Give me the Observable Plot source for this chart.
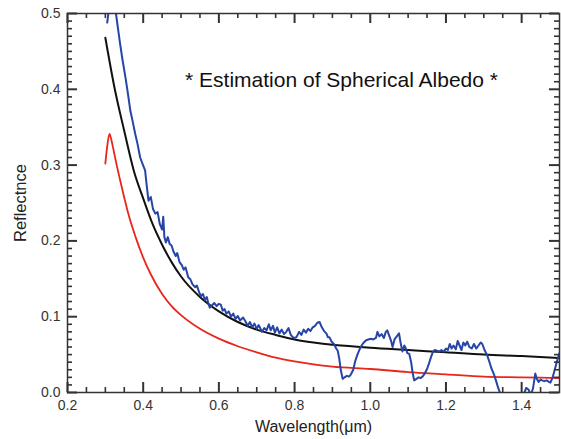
<!DOCTYPE html>
<html>
<head>
<meta charset="utf-8">
<script src="https://cdn.jsdelivr.net/npm/d3@7"></script>
<script src="https://cdn.jsdelivr.net/npm/@observablehq/plot@0.6"></script>
<style>
  html, body { margin: 0; padding: 0; background: #fff; }
  #chart { width: 561px; height: 439px; }
</style>
</head>
<body>
<div id="chart"></div>
<script>
// ---- data ----
const titleText = "* Estimation of Spherical Albedo *";
const xLabel = "Wavelength(μm)";
const yLabel = "Reflectnce";

const xMajorTicks = [0.2, 0.4, 0.6, 0.8, 1.0, 1.2, 1.4];
const xMinorTicks = [0.25, 0.3, 0.35, 0.45, 0.5, 0.55, 0.65, 0.7, 0.75, 0.85, 0.9, 0.95,
                     1.05, 1.1, 1.15, 1.25, 1.3, 1.35, 1.45];
const yMajorTicks = [0.0, 0.1, 0.2, 0.3, 0.4, 0.5];
const yMinorTicks = [0.01,0.02,0.03,0.04,0.05,0.06,0.07,0.08,0.09,
                     0.11,0.12,0.13,0.14,0.15,0.16,0.17,0.18,0.19,
                     0.21,0.22,0.23,0.24,0.25,0.26,0.27,0.28,0.29,
                     0.31,0.32,0.33,0.34,0.35,0.36,0.37,0.38,0.39,
                     0.41,0.42,0.43,0.44,0.45,0.46,0.47,0.48,0.49];

// black: estimated spherical albedo
const blackX = [0.30,0.325,0.35,0.375,0.40,0.425,0.45,0.475,0.50,0.55,0.60,0.65,0.70,0.75,0.80,0.85,0.90,0.95,1.00,1.10,1.20,1.30,1.40,1.50];
const blackY = [0.468,0.400,0.345,0.293,0.256,0.222,0.195,0.172,0.153,0.126,0.107,0.093,0.083,0.076,0.070,0.066,0.063,0.061,0.059,0.056,0.053,0.050,0.048,0.0455];

// red
const redX = [0.300,0.305,0.311,0.316,0.322,0.330,0.340,0.350,0.360,0.380,0.400,0.420,0.450,0.475,0.50,0.55,0.60,0.65,0.70,0.75,0.80,0.85,0.90,1.00,1.10,1.20,1.30,1.40,1.50];
const redY = [0.302,0.325,0.341,0.333,0.319,0.300,0.278,0.257,0.237,0.205,0.178,0.156,0.130,0.114,0.102,0.084,0.071,0.061,0.053,0.046,0.041,0.037,0.034,0.031,0.027,0.024,0.021,0.020,0.019];

// blue: measured spectrum
const blueX = [0.305,0.309,0.315,0.322,0.328,0.334,0.339,0.345,0.353,0.358,0.362,0.366,0.372,0.379,0.385,0.392,0.398,0.405,0.410,0.414,0.420,0.426,0.432,0.438,0.444,0.450,0.453,0.456,0.460,0.465,0.470,0.475,0.480,0.486,0.490,0.496,0.502,0.507,0.512,0.519,0.525,0.530,0.537,0.542,0.548,0.553,0.558,0.563,0.568,0.572,0.576,0.582,0.588,0.594,0.600,0.605,0.610,0.615,0.620,0.626,0.632,0.638,0.644,0.650,0.656,0.664,0.670,0.676,0.682,0.688,0.694,0.700,0.705,0.708,0.714,0.720,0.726,0.732,0.737,0.743,0.748,0.754,0.760,0.766,0.772,0.778,0.784,0.790,0.797,0.805,0.812,0.818,0.824,0.830,0.836,0.842,0.848,0.854,0.860,0.866,0.872,0.878,0.884,0.888,0.892,0.898,0.904,0.910,0.914,0.918,0.922,0.927,0.932,0.938,0.944,0.949,0.955,0.960,0.966,0.971,0.977,0.983,0.989,0.995,1.001,1.008,1.015,1.019,1.024,1.030,1.036,1.041,1.045,1.050,1.055,1.059,1.064,1.070,1.076,1.080,1.085,1.090,1.094,1.098,1.103,1.108,1.112,1.116,1.122,1.128,1.133,1.138,1.144,1.150,1.155,1.160,1.165,1.170,1.176,1.182,1.188,1.194,1.200,1.205,1.210,1.215,1.220,1.226,1.231,1.236,1.241,1.246,1.251,1.256,1.262,1.268,1.274,1.280,1.286,1.292,1.296,1.302,1.309,1.315,1.320,1.326,1.332,1.338,1.344,1.350,1.400,1.412,1.418,1.424,1.430,1.436,1.440,1.445,1.450,1.454,1.460,1.466,1.472,1.476,1.482,1.489,1.496,1.500];
const blueY = [0.488,0.505,0.540,0.545,0.500,0.478,0.460,0.440,0.416,0.400,0.386,0.372,0.358,0.341,0.328,0.310,0.302,0.293,0.270,0.253,0.258,0.242,0.236,0.238,0.222,0.215,0.232,0.205,0.198,0.205,0.196,0.194,0.186,0.180,0.184,0.172,0.168,0.162,0.165,0.152,0.149,0.143,0.139,0.141,0.132,0.127,0.130,0.122,0.126,0.118,0.112,0.115,0.118,0.114,0.117,0.116,0.108,0.110,0.104,0.107,0.100,0.104,0.097,0.101,0.095,0.099,0.094,0.088,0.093,0.086,0.091,0.084,0.089,0.086,0.080,0.085,0.082,0.090,0.082,0.088,0.079,0.086,0.078,0.083,0.077,0.080,0.085,0.076,0.072,0.073,0.080,0.076,0.083,0.079,0.084,0.081,0.086,0.088,0.092,0.093,0.086,0.081,0.078,0.073,0.073,0.067,0.064,0.058,0.055,0.045,0.030,0.018,0.020,0.022,0.021,0.024,0.030,0.041,0.050,0.056,0.062,0.066,0.069,0.070,0.071,0.070,0.072,0.080,0.074,0.077,0.072,0.080,0.082,0.075,0.068,0.060,0.070,0.074,0.078,0.066,0.054,0.062,0.058,0.052,0.051,0.040,0.026,0.016,0.018,0.020,0.019,0.021,0.025,0.031,0.038,0.046,0.053,0.056,0.055,0.054,0.056,0.054,0.058,0.056,0.064,0.058,0.062,0.057,0.068,0.062,0.056,0.066,0.062,0.067,0.060,0.058,0.064,0.058,0.062,0.066,0.064,0.056,0.049,0.040,0.032,0.025,0.016,0.006,-0.002,-0.015,-0.010,0.006,0.004,-0.003,0.005,0.025,0.018,0.014,0.017,0.016,0.015,0.016,0.014,0.013,0.020,0.033,0.046,0.052];

const black = blackX.map((x, i) => ({x, y: blackY[i]}));
const red = redX.map((x, i) => ({x, y: redY[i]}));
const blue = blueX.map((x, i) => ({x, y: blueY[i]}));

const W = 561, H = 439, mL = 67, mR = 2, mT = 13, mB = 47;
const frameW = W - mL - mR, frameH = H - mT - mB;
const axisColor = "#333";
const fmt = d3.format(".1f");

// inward ticks drawn as tick marks inset to a fixed pixel length
function ticksX(anchor, ticks, size, sw) {
  const inset = anchor === "bottom" ? {insetTop: frameH - size} : {insetBottom: frameH - size};
  return Plot.tickX(ticks, {x: d => d, stroke: axisColor, strokeWidth: sw, ...inset});
}
function ticksY(anchor, ticks, size, sw) {
  const inset = anchor === "left" ? {insetRight: frameW - size} : {insetLeft: frameW - size};
  return Plot.tickY(ticks, {y: d => d, stroke: axisColor, strokeWidth: sw, ...inset});
}

const chart = Plot.plot({
  width: W,
  height: H,
  marginLeft: mL,
  marginRight: mR,
  marginTop: mT,
  marginBottom: mB,
  style: {fontFamily: "'Liberation Sans', Arial, Helvetica, sans-serif", background: "#fff"},
  x: {domain: [0.2, 1.5]},
  y: {domain: [0, 0.5]},
  marks: [
    Plot.line(red, {x: "x", y: "y", stroke: "#e8261c", strokeWidth: 1.8, curve: "monotone-x", clip: true}),
    Plot.line(black, {x: "x", y: "y", stroke: "#111", strokeWidth: 2, curve: "monotone-x", clip: true}),
    Plot.line(blue, {x: "x", y: "y", stroke: "#2645a6", strokeWidth: 2, clip: true}),
    ticksX("bottom", xMajorTicks, 10, 2),
    ticksX("bottom", xMinorTicks, 5, 1.6),
    ticksX("top", xMajorTicks, 10, 2),
    ticksX("top", xMinorTicks, 5, 1.6),
    ticksY("left", yMajorTicks, 10, 2),
    ticksY("left", yMinorTicks, 5, 1.6),
    ticksY("right", yMajorTicks, 10, 2),
    ticksY("right", yMinorTicks, 5, 1.6),
    Plot.frame({stroke: axisColor, strokeWidth: 1.5}),
    // tick labels
    Plot.axisX({anchor: "bottom", ticks: xMajorTicks, tickSize: 0, tickPadding: 8, tickFormat: fmt,
                label: null, fontSize: 14, color: "#333"}),
    Plot.axisY({anchor: "left", ticks: yMajorTicks, tickSize: 0, tickPadding: 7, tickFormat: fmt,
                label: null, fontSize: 14, color: "#333"}),
    // axis titles and chart title
    Plot.text([xLabel], {frameAnchor: "bottom", dy: 34, lineAnchor: "middle", text: d => d, fontSize: 16, fill: "#222"}),
    Plot.text([yLabel], {frameAnchor: "left", dx: -47, rotate: -90, textAnchor: "middle", lineAnchor: "middle",
                         text: d => d, fontSize: 16.5, fill: "#222"}),
    Plot.text([titleText], {frameAnchor: "top", dx: 28, dy: 67, lineAnchor: "middle", textAnchor: "middle",
                            text: d => d, fontSize: 21, fill: "#111"})
  ]
});
document.getElementById("chart").appendChild(chart);
</script>
</body>
</html>
